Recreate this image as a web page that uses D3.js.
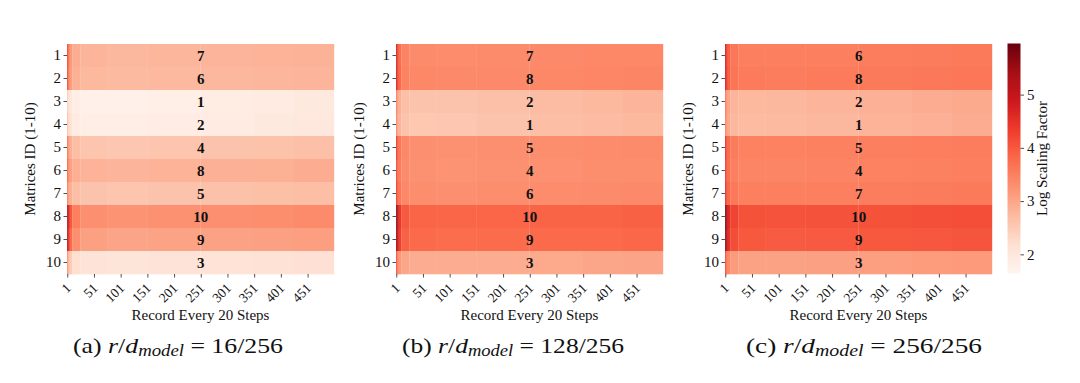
<!DOCTYPE html>
<html><head><meta charset="utf-8">
<script src="https://cdn.jsdelivr.net/npm/d3@7"></script>
<style>
body{margin:0;background:#fff;}
text{font-family:"Liberation Serif","Times New Roman",serif;fill:#111;}
</style></head>
<body><svg id="chart" width="1080" height="383"></svg>
<script>
// ---------- data ----------
const rowIds = [1,2,3,4,5,6,7,8,9,10];
const xTickLabels = [1,51,101,151,201,251,301,351,401,451];
const nCols = 500;
// recorded columns grouped into blocks (start column of each block, last ends at 500)
const blockStarts = [1,2,3,6,11,26,76,151,251,351,426];

const valsA = [
  [4.4,4.2,3.7,3.15,2.9,2.8,2.76,2.78,2.8,2.82,2.84],
  [4.4,4.1,3.6,3.1,2.85,2.75,2.72,2.74,2.76,2.78,2.8],
  [2.6,2.4,2.2,2.0,1.82,1.76,1.76,1.8,1.85,1.9,1.95],
  [2.8,2.6,2.3,2.1,1.9,1.83,1.82,1.86,1.9,1.95,2.0],
  [3.9,3.6,3.2,2.85,2.66,2.58,2.56,2.58,2.6,2.62,2.64],
  [4.1,3.8,3.4,3.05,2.88,2.82,2.8,2.82,2.85,2.87,2.9],
  [3.8,3.5,3.1,2.85,2.68,2.6,2.58,2.6,2.63,2.65,2.68],
  [5.5,5.3,4.7,4.0,3.5,3.3,3.25,3.27,3.3,3.33,3.36],
  [5.4,5.2,4.5,3.8,3.3,3.08,3.02,3.03,3.05,3.07,3.1],
  [3.5,3.2,2.8,2.45,2.2,2.08,2.05,2.07,2.1,2.12,2.15]
];
const valsB = [
  [5.0,4.8,4.2,3.75,3.45,3.36,3.34,3.35,3.37,3.39,3.4],
  [5.0,4.8,4.2,3.78,3.48,3.4,3.37,3.38,3.4,3.42,3.44],
  [3.8,3.5,3.1,2.85,2.65,2.6,2.6,2.64,2.7,2.75,2.8],
  [3.7,3.4,3.0,2.8,2.6,2.55,2.56,2.6,2.66,2.7,2.75],
  [4.7,4.4,3.9,3.6,3.4,3.3,3.28,3.3,3.32,3.34,3.36],
  [4.5,4.2,3.8,3.55,3.35,3.27,3.25,3.27,3.29,3.31,3.33],
  [4.6,4.3,3.9,3.6,3.4,3.32,3.3,3.32,3.34,3.36,3.38],
  [5.9,5.7,5.0,4.4,4.0,3.86,3.84,3.85,3.87,3.88,3.9],
  [5.8,5.6,4.9,4.3,3.9,3.78,3.76,3.77,3.79,3.8,3.82],
  [4.4,4.0,3.5,3.2,3.0,2.9,2.9,2.92,2.96,2.99,3.02]
];
const valsC = [
  [5.1,4.9,4.3,3.9,3.62,3.52,3.5,3.52,3.54,3.56,3.58],
  [5.1,4.9,4.35,3.92,3.66,3.57,3.55,3.57,3.59,3.61,3.63],
  [3.9,3.6,3.25,3.0,2.8,2.75,2.76,2.8,2.86,2.9,2.95],
  [3.8,3.5,3.2,2.95,2.76,2.71,2.72,2.76,2.82,2.86,2.9],
  [4.8,4.5,4.05,3.8,3.56,3.48,3.47,3.49,3.51,3.53,3.55],
  [4.7,4.4,4.0,3.75,3.52,3.44,3.43,3.45,3.47,3.49,3.51],
  [4.8,4.5,4.1,3.82,3.6,3.52,3.5,3.52,3.54,3.56,3.58],
  [5.96,5.8,5.2,4.6,4.25,4.08,4.06,4.07,4.08,4.1,4.12],
  [5.9,5.7,5.1,4.5,4.15,3.99,3.97,3.98,4.0,4.02,4.04],
  [4.5,4.1,3.65,3.4,3.15,3.05,3.05,3.07,3.1,3.13,3.16]
];
const ranksA = [7,6,1,2,4,8,5,10,9,3];
const ranksB = [7,8,2,1,5,4,6,10,9,3];
const ranksC = [6,8,2,1,5,4,7,10,9,3];
const captionLetters = ["(a)","(b)","(c)"];
const captionRatios = ["16/256","128/256","256/256"];
const cbarTicks = [2,3,4,5];
const vmin = 1.64, vmax = 5.96;

// ---------- drawing ----------
const svg = d3.select("#chart");
const redsStops = ["#fff5f0","#fee0d2","#fcbba1","#fc9272","#fb6a4a","#ef3b2c","#cb181d","#a50f15","#67000d"];
const color = d3.scaleLinear()
  .domain(redsStops.map((_,i)=>vmin + i*(vmax-vmin)/8))
  .range(redsStops).interpolate(d3.interpolateRgb).clamp(true);

const panels = [
  {x0:67, vals:valsA, ranks:ranksA},
  {x0:396, vals:valsB, ranks:ranksB},
  {x0:725, vals:valsC, ranks:ranksC}
];
const W = 267, plotTop = 44, H = 230;
const captionX = [73, 402, 746];
const captionW = [210, 222, 236];

panels.forEach((p, pi) => {
  const g = svg.append("g");
  const x = d3.scaleLinear().domain([1, nCols+1]).range([p.x0, p.x0+W]);
  const y = d3.scaleBand().domain(rowIds).range([plotTop, plotTop+H]);

  const cells = [];
  p.vals.forEach((row, ri) => {
    row.forEach((v, bi) => {
      const s = blockStarts[bi];
      const e = bi < blockStarts.length-1 ? blockStarts[bi+1] : nCols+1;
      cells.push({id: rowIds[ri], s, e, v});
    });
  });
  g.selectAll("rect.cell").data(cells).join("rect")
    .attr("class","cell")
    .attr("x", d=>x(d.s)).attr("width", d=>x(d.e)-x(d.s)+0.2)
    .attr("y", d=>y(d.id)).attr("height", y.bandwidth()+0.3)
    .attr("fill", d=>color(d.v));

  // rank labels at column 251
  g.selectAll("text.rank").data(p.ranks).join("text")
    .attr("class","rank")
    .attr("x", x(251.5)).attr("y", (d,i)=>y(rowIds[i])+y.bandwidth()/2)
    .attr("dy","0.35em").attr("text-anchor","middle")
    .attr("font-weight","bold").attr("font-size",15)
    .text(d=>d);

  // y axis
  const ya = g.append("g").attr("transform",`translate(${p.x0},0)`)
    .call(d3.axisLeft(y).tickSize(3.5).tickPadding(2.5));
  ya.select(".domain").remove();
  ya.selectAll("line").attr("stroke","#222").attr("stroke-width",0.8);
  ya.selectAll("text").attr("font-size",15).attr("fill","#111");

  // x axis
  const xa = g.append("g").attr("transform",`translate(0,${plotTop+H})`)
    .call(d3.axisBottom(x).tickValues(xTickLabels.map(t=>t+0.5)).tickFormat(d=>d-0.5).tickSize(3.5));
  xa.select(".domain").remove();
  xa.selectAll("line").attr("stroke","#222").attr("stroke-width",0.8);
  xa.selectAll("text").attr("font-size",13.5).attr("fill","#111")
    .attr("text-anchor","end").attr("dy",null).attr("y",0)
    .attr("transform","translate(4,15) rotate(-45)");

  // axis titles
  g.append("text").attr("x", p.x0+W/2).attr("y", 320).attr("text-anchor","middle")
    .attr("font-size",15).text("Record Every 20 Steps");
  g.append("text").attr("transform",`translate(${p.x0-32},${plotTop+H/2}) rotate(-90)`)
    .attr("text-anchor","middle").attr("font-size",15).text("Matrices ID (1-10)");

  // caption
  const cap = svg.append("text").attr("x", captionX[pi]).attr("y", 353).attr("font-size",22)
    .attr("textLength", captionW[pi]).attr("lengthAdjust","spacingAndGlyphs");
  cap.append("tspan").text(captionLetters[pi] + " ");
  cap.append("tspan").attr("font-style","italic").text("r");
  cap.append("tspan").text("/");
  cap.append("tspan").attr("font-style","italic").text("d");
  cap.append("tspan").attr("font-style","italic").attr("font-size",16).attr("dy",3).text("model");
  cap.append("tspan").attr("dy",-3).text(" = " + captionRatios[pi]);
});

// colorbar
const cbX = 1007.5, cbW = 13, cbTop = 43.5, cbH = 230;
const defs = svg.append("defs");
const grad = defs.append("linearGradient").attr("id","cbgrad")
  .attr("x1",0).attr("y1",1).attr("x2",0).attr("y2",0);
d3.range(0,1.0001,0.02).forEach(t => {
  grad.append("stop").attr("offset", t).attr("stop-color", color(vmin + t*(vmax-vmin)));
});
svg.append("rect").attr("x",cbX).attr("y",cbTop).attr("width",cbW).attr("height",cbH)
  .attr("fill","url(#cbgrad)");
const cy = d3.scaleLinear().domain([vmin,vmax]).range([cbTop+cbH, cbTop]);
const ca = svg.append("g").attr("transform",`translate(${cbX+cbW},0)`)
  .call(d3.axisRight(cy).tickValues(cbarTicks).tickFormat(d3.format("d")).tickSize(3.5).tickPadding(3));
ca.select(".domain").remove();
ca.selectAll("line").attr("stroke","#222").attr("stroke-width",0.8);
ca.selectAll("text").attr("font-size",15).attr("fill","#111");
svg.append("text").attr("transform",`translate(1047,${cbTop+cbH/2}) rotate(-90)`)
  .attr("text-anchor","middle").attr("font-size",15).text("Log Scaling Factor");
</script></body></html>
